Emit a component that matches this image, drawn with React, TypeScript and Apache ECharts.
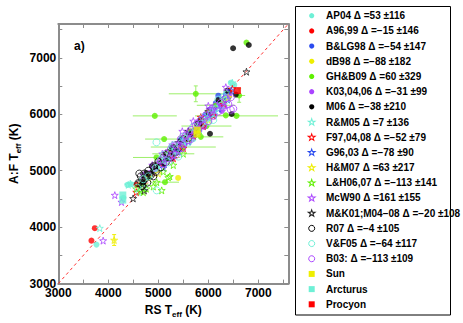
import React, { useEffect, useRef } from 'react';
import * as echarts from 'echarts';

// ---------- data ----------
const axisRange = [3000, 7600];
const tickLabels = [3000, 4000, 5000, 6000, 7000];
const oneToOne = [[3000, 3000], [7600, 7600]];

const ap04 = [[3763,3691],[4300,4520],[4380,4750],[4460,4760],[4820,4880],[4980,5060],[5150,5220],[5320,5380],[5480,5500],[5650,5640],[5820,5760],[5980,5920],[6120,6080],[6280,6220],[6420,6380],[6520,6520],[6450,6560],[5250,5420],[5700,5560]];
const a96 = [[3730,3982],[3663,3761],[4564,4754],[5080,5120],[5450,5420],[5850,5800],[6250,6200],[6420,6400]];
const blg98 = [[5450,5550],[5650,5650],[5850,5850],[6020,6080],[6150,6200],[6200,6330],[6300,6270],[6350,6350],[5950,6000],[6080,5980]];
const db98 = [[5397,4872],[4850,4950],[5250,5300],[5650,5700],[6000,6050],[6300,6250]];
// [RS, AF, xerr, yerr]
const ghb09 = [[5750,6363,540,140],[4930,5972,440,0],[6564,5972,830,0],[6350,5981,280,0],[5116,5561,380,0],[4964,5235,470,0],[5963,5792,500,0],[5134,4797,280,0],[6763,7270,0,0],[6617,6333,120,120],[5500,5420,650,0],[6150,6160,380,0],[5300,5300,420,0],[4660,4760,150,0],[5850,5600,450,0]];
const k03 = [[4820,4960],[4950,5000],[5020,5150],[5120,5120],[5220,5330],[5320,5290],[5420,5500],[5520,5460],[5620,5660],[5720,5620],[5820,5840],[5920,5780],[6020,6010],[6120,5980],[6220,6180],[6320,6140],[6420,6320],[5270,5200],[5770,5760],[6270,6060],[5570,5560],[6070,6090]];
const m06 = [[6496,7170],[6810,7228],[6468,6005],[6034,5655],[5600,5655],[4880,5080],[4760,4960],[5300,5400],[5850,5900],[6200,6250],[6550,6350],[4700,4800],[6380,6420],[5150,5200]];
const rm05 = [[3830,3982],[4400,4750],[4440,4770],[4920,5000],[5120,5200],[5320,5350],[5520,5500],[5720,5700],[5920,5850],[6120,6000],[6320,6250],[6368,6385],[6480,6560],[4720,4700],[4600,4620]];
const f97 = [[5300,5220],[5500,5400],[5700,5620],[5900,5790],[6100,5980],[6300,6190],[6480,6450],[4560,4620],[5850,5950]];
const g96 = [[5200,5260],[5400,5340],[5600,5520],[5800,5700],[6000,5950],[6200,6100],[6380,6260],[6460,6420],[5100,5050]];
const hm07 = [[4117,3772],[4800,4880],[5200,5320],[5600,5560],[6000,5900],[6400,6300],[5000,4950]];
const hm07Err = [[4117,3772,40,96]];
const lh06 = [[4650,4640],[4700,4620],[4760,4680],[4900,4720],[4968,4797],[5068,4652],[5100,4984],[5200,4880],[5230,4900],[5300,5100],[5500,5300],[5800,5650],[4560,4680]];
const mcw90 = [[4130,4567],[4263,4445],[3897,3761],[4700,4920],[4880,5100],[5080,5300],[5280,5460],[5480,5700],[5700,5880],[6000,6150],[6350,6480]];
const mk01 = [[4497,4509],[4620,4800],[4760,4900],[4850,4960],[4950,5100],[5050,5150],[5150,5310],[5250,5350],[5400,5500],[5600,5700],[5800,5850],[6000,6050],[6763,6754],[4720,4650],[4680,4760]];
const r07 = [[4600,4780],[4650,4900],[4700,4820],[4720,4950],[4750,4870],[4800,5000],[4850,4920],[4900,5080],[4950,4980],[5000,5160],[5050,5060],[5100,5230],[5150,5150],[5200,5310],[5250,5240],[5300,5400],[5400,5400],[5500,5560],[5600,5580],[4680,4730],[4780,4790],[5350,5330],[5700,5680],[5800,5820],[4620,4950],[4900,4900]];
const vf05 = [[4964,5503],[4968,4652],[4950,5050],[5050,5200],[5150,5180],[5250,5320],[5350,5380],[5450,5480],[5550,5560],[5650,5650],[5750,5720],[5850,5830],[5950,5900],[6050,6000],[6150,6100],[6250,6150],[6350,6250],[5100,5280],[5300,5450],[5500,5600],[5700,5780],[5900,5950],[6100,6080],[6300,6300],[5200,5150],[5600,5500],[5800,5700],[6000,5860],[4800,4900],[6200,6260],[4700,4850],[4580,4700],[5400,5250],[6100,5900]];
const b03 = [[5050,5180],[5100,5120],[5150,5300],[5200,5220],[5250,5380],[5300,5290],[5350,5450],[5400,5380],[5450,5560],[5500,5470],[5550,5620],[5600,5540],[5650,5720],[5700,5630],[5750,5800],[5800,5720],[5850,5900],[5900,5800],[5950,5980],[6000,5880],[6050,6060],[6100,5970],[6150,6150],[6200,6050],[6250,6200],[6300,6120],[6350,6280],[6400,6180],[6450,6300],[5480,5400],[5620,5680],[5780,5840],[5920,5920],[6080,6100],[6500,6100],[6450,6080],[5350,5280],[5650,5560]];
const sun = [[5777,5720],[5777,5650]];
const arcturus = [[4290,4570],[4290,4480]];
const procyon = [[6583,6421]];

const names = [
  'AP04 Δ =53 ±116',
  'A96,99 Δ =−15 ±146',
  'B&LG98 Δ =−54 ±147',
  'dB98 Δ =−88 ±182',
  'GH&B09 Δ =60 ±329',
  'K03,04,06 Δ =−31 ±99',
  'M06 Δ =−38 ±210',
  'R&M05 Δ =7 ±136',
  'F97,04,08 Δ =−52 ±79',
  'G96,03 Δ =−78 ±90',
  'H&M07 Δ =63 ±217',
  'L&H06,07 Δ =−113 ±141',
  'McW90 Δ =161 ±155',
  'M&K01;M04−08 Δ =−20 ±108',
  'R07 Δ =−4 ±105',
  'V&F05 Δ =−64 ±117',
  'B03: Δ =−113 ±109',
  'Sun',
  'Arcturus',
  'Procyon',
];

const CYAN = '#6ef0d6';
const RED = '#ff0000';
const BLUE = '#2a4bef';
const YELLOW = '#eeee00';
const GREEN = '#5ef000';
const PURPLE = '#aa44ff';
const BLACK = '#000000';
const DARK = '#222222';
const ERR_GREEN = '#9def6a';
const AXIS = '#8c8c8c';
const FONT = '"Liberation Sans", Arial, Helvetica, sans-serif';
const STAR_D = 'M50,0 L61.8,35.1 L98.9,35.1 L68.9,56.8 L80.3,91.9 L50,70.2 L19.7,91.9 L31.1,56.8 L1.1,35.1 L38.2,35.1 Z';
const STAR = 'path://' + STAR_D;

echarts.graphic.registerShape('legendStar', echarts.graphic.extendPath(STAR_D, {}) as any);

type Kind = 'dot' | 'ring' | 'star' | 'square';

const seriesDefs: [number[][], Kind, string][] = [
  [ap04, 'dot', CYAN],
  [a96, 'dot', RED],
  [blg98, 'dot', BLUE],
  [db98, 'dot', YELLOW],
  [ghb09, 'dot', GREEN],
  [k03, 'dot', PURPLE],
  [m06, 'dot', BLACK],
  [rm05, 'star', CYAN],
  [f97, 'star', RED],
  [g96, 'star', BLUE],
  [hm07, 'star', YELLOW],
  [lh06, 'star', GREEN],
  [mcw90, 'star', PURPLE],
  [mk01, 'star', DARK],
  [r07, 'ring', BLACK],
  [vf05, 'ring', CYAN],
  [b03, 'ring', PURPLE],
  [sun, 'square', YELLOW],
  [arcturus, 'square', CYAN],
  [procyon, 'square', RED],
];

function scatter(name: string, data: number[][], kind: Kind, color: string) {
  const base: any = {
    name,
    type: 'scatter',
    data: data.map((d) => [d[0], d[1]]),
    z: 3,
  };
  if (kind === 'dot') {
    base.symbol = 'circle';
    base.symbolSize = 6;
    base.itemStyle = { color };
  } else if (kind === 'ring') {
    base.symbol = 'circle';
    base.symbolSize = 7;
    base.itemStyle = { color: 'rgba(255,255,255,0)', borderColor: color, borderWidth: 1 };
  } else if (kind === 'star') {
    base.symbol = STAR;
    base.symbolSize = 7;
    base.itemStyle = { color: 'rgba(255,255,255,0)', borderColor: color, borderWidth: 1 };
  } else {
    base.symbol = 'rect';
    base.symbolSize = 7;
    base.itemStyle = { color };
  }
  return base;
}

function legendIcon(kind: Kind, color: string, cx: number, cy: number): any {
  if (kind === 'dot') return { type: 'circle', shape: { cx, cy, r: 2.6 }, style: { fill: color } };
  if (kind === 'ring') return { type: 'circle', shape: { cx, cy, r: 3 }, style: { fill: 'none', stroke: color, lineWidth: 1 } };
  if (kind === 'square') return { type: 'rect', shape: { x: cx - 3, y: cy - 3, width: 6, height: 6 }, style: { fill: color } };
  const s = 0.07;
  return {
    type: 'legendStar',
    x: cx - 50 * s,
    y: cy - 48 * s,
    scaleX: s,
    scaleY: s,
    style: { fill: 'none', stroke: color, lineWidth: 1 / s },
  };
}

function errorBars(data: number[][], color: string) {
  return {
    type: 'custom',
    silent: true,
    z: 2,
    data,
    encode: { x: 0, y: 1 },
    renderItem: (_p: any, api: any) => {
      const x = api.value(0), y = api.value(1), xe = api.value(2), ye = api.value(3);
      const children: any[] = [];
      const st = { stroke: color, lineWidth: 1 };
      if (xe > 0) {
        const a = api.coord([x - xe, y]);
        const b = api.coord([x + xe, y]);
        children.push({ type: 'line', shape: { x1: a[0], y1: a[1], x2: b[0], y2: b[1] }, style: st });
      }
      if (ye > 0) {
        const a = api.coord([x, y - ye]);
        const b = api.coord([x, y + ye]);
        children.push({ type: 'line', shape: { x1: a[0], y1: a[1], x2: b[0], y2: b[1] }, style: st });
        children.push({ type: 'line', shape: { x1: a[0] - 2, y1: a[1], x2: a[0] + 2, y2: a[1] }, style: st });
        children.push({ type: 'line', shape: { x1: b[0] - 2, y1: b[1], x2: b[0] + 2, y2: b[1] }, style: st });
      }
      return { type: 'group', children };
    },
  };
}

const labelFmt = (v: number) => (tickLabels.includes(v) ? String(v) : '');

export default function App() {
  const ref = useRef<HTMLDivElement>(null);
  useEffect(() => {
    if (!ref.current) return;
    const chart = echarts.init(ref.current, undefined, { renderer: 'svg' });
    const axisCommon = {
      type: 'value',
      min: axisRange[0],
      max: axisRange[1],
      interval: 500,
      axisLine: { show: true, onZero: false, lineStyle: { color: AXIS, width: 2 } },
      axisTick: { show: true, inside: true, length: 4, lineStyle: { color: AXIS, width: 1 } },
      splitLine: { show: false },
    };
    const nameRich = {
      a: { fontSize: 12, fontWeight: 'bold', fontFamily: FONT, color: '#000' },
      b: { fontSize: 8, fontWeight: 'bold', fontFamily: FONT, color: '#000', padding: [9, 0, 0, 0] },
    };

    // legend drawn as graphic elements
    const legendTop = 15.7;
    const legendStep = 15.19;
    const legendEls: any[] = [];
    seriesDefs.forEach(([, kind, color], i) => {
      const cy = legendTop + i * legendStep;
      legendEls.push(legendIcon(kind, color, 311.7, cy));
      legendEls.push({
        type: 'text',
        x: 326,
        y: cy,
        style: {
          text: names[i],
          fontSize: 10,
          fontWeight: 'bold',
          fontFamily: FONT,
          fill: '#000',
          verticalAlign: 'middle',
          align: 'left',
        },
      });
    });

    const option: any = {
      animation: false,
      grid: { left: 58.3, top: 24, right: 463 - 288.3, bottom: 323 - 286.7, containLabel: false },
      xAxis: [
        {
          ...axisCommon,
          position: 'bottom',
          name: '{a|RS T}{b|eff}{a| (K)}',
          nameLocation: 'middle',
          nameGap: 12,
          nameTextStyle: { rich: nameRich },
          axisLabel: { show: true, margin: 3, formatter: labelFmt, showMaxLabel: false, fontSize: 12, fontWeight: 'bold', fontFamily: FONT, color: '#000' },
        },
        { ...axisCommon, position: 'top', axisLabel: { show: false } },
      ],
      yAxis: [
        {
          ...axisCommon,
          position: 'left',
          name: '{a|A:F T}{b|eff}{a| (K)}',
          nameLocation: 'middle',
          nameGap: 36,
          nameTextStyle: { rich: nameRich },
          axisLabel: { show: true, margin: 2, formatter: labelFmt, showMaxLabel: false, fontSize: 12, fontWeight: 'bold', fontFamily: FONT, color: '#000' },
        },
        { ...axisCommon, position: 'right', axisLabel: { show: false } },
      ],
      graphic: [
        {
          type: 'rect',
          shape: { x: 295.5, y: 6.5, width: 155, height: 308.5 },
          style: { fill: 'none', stroke: '#000', lineWidth: 1 },
          silent: true,
        },
        {
          type: 'text',
          left: 74,
          top: 40,
          style: { text: 'a)', fontSize: 12, fontWeight: 'bold', fontFamily: FONT, fill: '#000' },
        },
        ...legendEls,
      ],
      series: [
        {
          type: 'line',
          data: oneToOne,
          symbol: 'none',
          silent: true,
          z: 1,
          lineStyle: { color: '#ff3030', width: 1, type: [3, 3] },
        },
        errorBars(ghb09, ERR_GREEN),
        errorBars(hm07Err, YELLOW),
        ...seriesDefs.map(([data, kind, color], i) => scatter(names[i], data, kind, color)),
      ],
    };
    chart.setOption(option);
    return () => chart.dispose();
  }, []);
  return (
    <div
      ref={ref}
      style={{ position: 'fixed', left: 0, top: 0, width: 463, height: 323, background: '#fff' }}
    />
  );
}
